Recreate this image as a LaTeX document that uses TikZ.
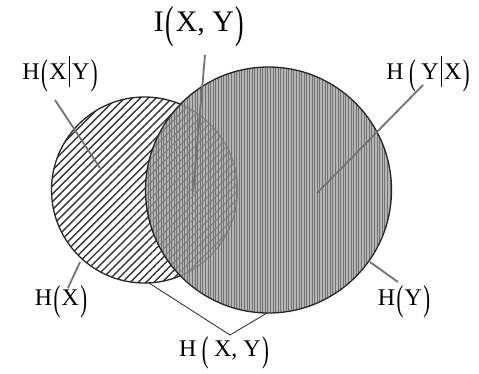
\documentclass[tikz,border=0pt]{standalone}
\usepackage{fontspec}
\usepackage{graphicx}
\setmainfont{Liberation Serif}
\usetikzlibrary{patterns.meta}
\newcommand{\LP}{\hspace{0.06em}\raisebox{-0.22em}{\scalebox{0.85}[1.5]{(}}\hspace{0.06em}}
\newcommand{\RP}{\hspace{0.06em}\raisebox{-0.22em}{\scalebox{0.85}[1.5]{)}}}
\newcommand{\VB}{\hspace{0.1em}\rule[-0.3em]{0.7pt}{1.3em}\hspace{0.1em}}
\begin{document}
\begin{tikzpicture}[x=1bp,y=-1bp,
  lbl/.style={font=\fontsize{24}{27}\selectfont, inner sep=0pt},
  biglbl/.style={font=\fontsize{30}{33}\selectfont, inner sep=0pt},
  pointer/.style={draw=black!55, line width=1.8bp},
  bracket/.style={draw=black!85, line width=0.8bp, line join=miter},
  outline/.style={draw=black!85, line width=1.3bp}]
\useasboundingbox (0,0) rectangle (479,373);
\fill[white] (0,0) rectangle (479,373);
% small circle H(X)
\coordinate (cx) at (144.5,190);
\coordinate (cy) at (268.5,190);
\fill[white] (cx) circle[radius=93];
\fill[pattern={Lines[angle=45,distance=5.6bp,line width=1.4bp]}, pattern color=black!80] (cx) circle[radius=93];
\draw[outline] (cx) circle[radius=93];
% big circle H(Y)
\fill[black!37, fill opacity=0.78] (cy) circle[radius=123];
\fill[pattern={Lines[angle=90,distance=2.6bp,line width=0.7bp]}, pattern color=black!55, fill opacity=0.3] (cy) circle[radius=123];
\draw[outline] (cy) circle[radius=123];
% labels
\node[lbl] (hxy) at (60,74) {H\LP X\VB Y\RP};
\node[lbl] (hyx) at (428,74) {H\,\LP\,Y\VB X\RP};
\node[biglbl] (ixy) at (199,27) {I\LP X, Y\RP};
\node[lbl] (hx) at (61,302) {H\LP X\RP};
\node[lbl] (hy) at (404,302) {H\LP Y\RP};
\node[lbl] (hjoint) at (224,353) {H\,\LP\,X, Y\RP};
% pointer ends
\coordinate (p1a) at (55,100); \coordinate (p1b) at (100,168);
\coordinate (p2a) at (205,55); \coordinate (p2b) at (193,192);
\coordinate (p3a) at (423,85); \coordinate (p3b) at (317,193);
\coordinate (p4a) at (68,288); \coordinate (p4b) at (80,262);
\coordinate (p5a) at (370,262); \coordinate (p5b) at (398,282);
\coordinate (b1) at (149,283); \coordinate (b2) at (230,335); \coordinate (b3) at (267,313);
\draw[pointer] (p1a) -- (p1b);
\draw[pointer] (p2a) -- (p2b);
\draw[pointer] (p3a) -- (p3b);
\draw[pointer] (p4a) -- (p4b);
\draw[pointer] (p5a) -- (p5b);
\draw[bracket] (b1) -- (b2) -- (b3);
\end{tikzpicture}
\end{document}
